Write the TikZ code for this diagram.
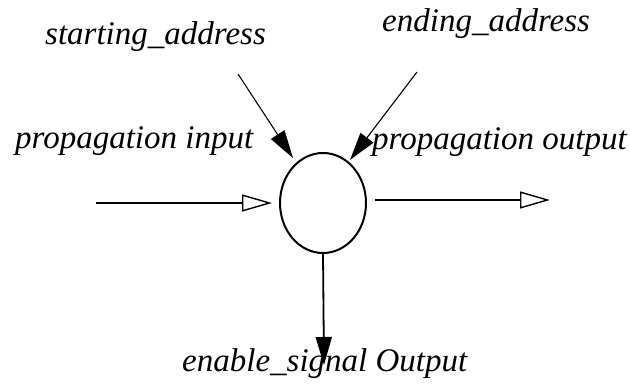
\documentclass[tikz,border=0pt]{standalone}
\usepackage{fontspec}
\setmainfont{Liberation Serif}
\usetikzlibrary{arrows.meta,shapes.geometric}
\begin{document}
\begin{tikzpicture}[x=1pt,y=-1pt,
  lbl/.style={anchor=base west,inner sep=0pt,font=\fontsize{33}{36}\selectfont\itshape},
  openarrow/.style={line width=1.6pt,-{Triangle[open,length=30pt,width=17pt,line width=1.4pt]}},
  fillarrow/.style={line width=1.1pt,-{Triangle[length=28pt,width=16pt]}},
  downarrow/.style={line width=1.8pt,-{Triangle[length=28pt,width=16pt]}}]
\useasboundingbox (0,0) rectangle (630,390);
\node[ellipse,draw,line width=2pt,minimum width=86pt,minimum height=100pt,inner sep=0pt] (c) at (323,203) {};
\node[lbl] (sa) at (45,45) {starting\_address};
\node[lbl] (ea) at (382,32) {ending\_address};
\node[lbl] (pi) at (15,149) {propagation input};
\node[lbl] (po) at (372,150) {propagation output};
\node[lbl] (es) at (182,372) {enable\_signal Output};
\coordinate (inS) at (96,203);
\coordinate (inE) at (272,203);
\coordinate (outS) at (375,200);
\coordinate (outE) at (550,200);
\coordinate (saS) at (238,74);
\coordinate (saE) at (293,158);
\coordinate (eaS) at (417,72);
\coordinate (eaE) at (350,160);
\coordinate (dnE) at (324,365);
\draw[openarrow] (inS) -- (inE);
\draw[openarrow] (outS) -- (outE);
\draw[fillarrow] (saS) -- (saE);
\draw[fillarrow] (eaS) -- (eaE);
\draw[downarrow] (c.south) -- (dnE);
\end{tikzpicture}
\end{document}
